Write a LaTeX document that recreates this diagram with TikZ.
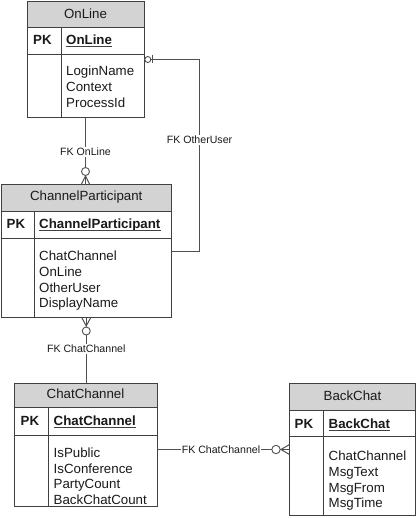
\documentclass[tikz,border=0pt]{standalone}
\usepackage{fontspec}
\setmainfont{Liberation Sans}
\usetikzlibrary{calc}
\definecolor{bordc}{HTML}{404040}
\definecolor{linec}{HTML}{505050}
\definecolor{hdrc}{HTML}{D3D3D3}
\definecolor{txtc}{HTML}{1A1A1A}
\begin{document}
\begin{tikzpicture}[x=1pt,y=-1pt,
  tbl/.style={draw=bordc, line width=1pt, inner sep=0pt, outer sep=0pt, anchor=north west},
  hdr/.style={fill=hdrc, draw=bordc, line width=1pt, inner sep=0pt, outer sep=0pt, anchor=north west},
  sep/.style={draw=bordc, line width=1pt},
  title/.style={font=\fontsize{13.3}{16}\selectfont, text=txtc, inner sep=0pt, anchor=base},
  fld/.style={font=\fontsize{13.3}{16}\selectfont, text=txtc, inner sep=0pt, anchor=base west},
  pkt/.style={font=\fontsize{13.3}{16}\selectfont\bfseries, text=txtc, inner sep=0pt, anchor=base west},
  uline/.style={draw=bordc, line width=1pt},
  lbl/.style={font=\fontsize{10.6}{12}\selectfont, text=txtc, fill=white, inner sep=1pt},
  conn/.style={draw=linec, line width=1pt},
  mk/.style={draw=linec, line width=0.9pt, fill=white},
]
\useasboundingbox[fill=white] (0,0) rectangle (417,518);

% ---------------- OnLine
\node[hdr, minimum width=117, minimum height=26] (OLh) at (27,1.5) {};
\node[tbl, minimum width=117, minimum height=116] (OL) at (27,1.5) {};
\draw[sep] (27,55) -- (144,55);
\draw[sep] (61,27.5) -- (61,117.5);
\node[title] (OLt) at (85.5,18.5) {OnLine};
\node[pkt] (OLpk) at (33,44.5) {PK};
\node[pkt] (OLk) at (66,44.5) {OnLine};
\draw[uline] ([yshift=-2.3pt]OLk.base west) -- ([yshift=-2.3pt]OLk.base east);
\foreach \t [count=\i] in {LoginName,Context,ProcessId}
  \node[fld] (OLf\i) at (66,76+15.7*\i-15.7) {\t};

% ---------------- ChannelParticipant
\node[hdr, minimum width=169.5, minimum height=26.5] (CPh) at (1.5,185) {};
\node[tbl, minimum width=169.5, minimum height=132.5] (CP) at (1.5,185) {};
\draw[sep] (1.5,238) -- (171,238);
\draw[sep] (34,211.5) -- (34,317.5);
\node[title] (CPt) at (86.25,200.7) {ChannelParticipant};
\node[pkt] (CPpk) at (6.5,228.3) {PK};
\node[pkt] (CPk) at (39,228.3) {ChannelParticipant};
\draw[uline] ([yshift=-2.3pt]CPk.base west) -- ([yshift=-2.3pt]CPk.base east);
\foreach \t [count=\i] in {ChatChannel,OnLine,OtherUser,DisplayName}
  \node[fld] (CPf\i) at (39,260.7+15.7*\i-15.7) {\t};

% ---------------- ChatChannel
\node[hdr, minimum width=143, minimum height=24] (CCh) at (14,383) {};
\node[tbl, minimum width=143, minimum height=123.5] (CC) at (14,383) {};
\draw[sep] (14,435) -- (157,435);
\draw[sep] (48.5,407) -- (48.5,506.5);
\node[title] (CCt) at (85.5,398.3) {ChatChannel};
\node[pkt] (CCpk) at (20.5,425) {PK};
\node[pkt] (CCk) at (53.5,425) {ChatChannel};
\draw[uline] ([yshift=-2.3pt]CCk.base west) -- ([yshift=-2.3pt]CCk.base east);
\foreach \t [count=\i] in {IsPublic,IsConference,PartyCount,BackChatCount}
  \node[fld] (CCf\i) at (53.5,457.3+15.7*\i-15.7) {\t};

% ---------------- BackChat
\node[hdr, minimum width=126, minimum height=27] (BCh) at (289.5,383.5) {};
\node[tbl, minimum width=126, minimum height=132] (BC) at (289.5,383.5) {};
\draw[sep] (289.5,436.5) -- (415.5,436.5);
\draw[sep] (323.5,410.5) -- (323.5,515.5);
\node[title] (BCt) at (352.5,400) {BackChat};
\node[pkt] (BCpk) at (294.5,428.3) {PK};
\node[pkt] (BCk) at (328.5,428.3) {BackChat};
\draw[uline] ([yshift=-2.3pt]BCk.base west) -- ([yshift=-2.3pt]BCk.base east);
\foreach \t [count=\i] in {ChatChannel,MsgText,MsgFrom,MsgTime}
  \node[fld] (BCf\i) at (328.5,460.7+15.7*\i-15.7) {\t};

% ---------------- FK OnLine
\draw[conn] (OL.south) -- (OL.south |- CP.north)
  node[lbl, pos=0.511] (l1) {FK OnLine};
\draw[conn] ($(OL.south |- CP.north)+(0,-9)$) -- ($(OL.south |- CP.north)+(-4.5,0)$)
  ($(OL.south |- CP.north)+(0,-9)$) -- ($(OL.south |- CP.north)+(4.5,0)$);
\draw[mk] ($(OL.south |- CP.north)+(0,-13.5)$) circle (4);

% ---------------- FK OtherUser
\coordinate (ou) at (199.5,59.5);
\draw[conn] (OL.east) -- (ou) |- (CP.east);
\node[lbl] (l2) at (199.5,140) {FK OtherUser};
\draw[mk] ($(OL.east)+(3.8,0)$) circle (3);
\draw[conn] ($(OL.east)+(8.3,-4)$) -- ($(OL.east)+(8.3,4)$);

% ---------------- FK ChatChannel (vertical)
\draw[conn] (CP.south) -- (CP.south |- CC.north)
  node[lbl, pos=0.484] (l3) {FK ChatChannel};
\draw[conn] ($(CP.south)+(0,8.5)$) -- ($(CP.south)+(-4.5,0)$)
  ($(CP.south)+(0,8.5)$) -- ($(CP.south)+(4.5,0)$);
\draw[mk] ($(CP.south)+(0,13.5)$) circle (4);

% ---------------- FK ChatChannel (horizontal)
\coordinate (fk) at (221,449.5);
\draw[conn] (fk -| CC.east) -- (fk -| BC.west);
\node[lbl] (l4) at (fk) {FK ChatChannel};
\draw[conn] ($(fk -| BC.west)+(-8.5,0)$) -- ($(fk -| BC.west)+(0,-5)$)
  ($(fk -| BC.west)+(-8.5,0)$) -- ($(fk -| BC.west)+(0,5)$);
\draw[mk] ($(fk -| BC.west)+(-13.5,0)$) circle (4.2);
\end{tikzpicture}
\end{document}
